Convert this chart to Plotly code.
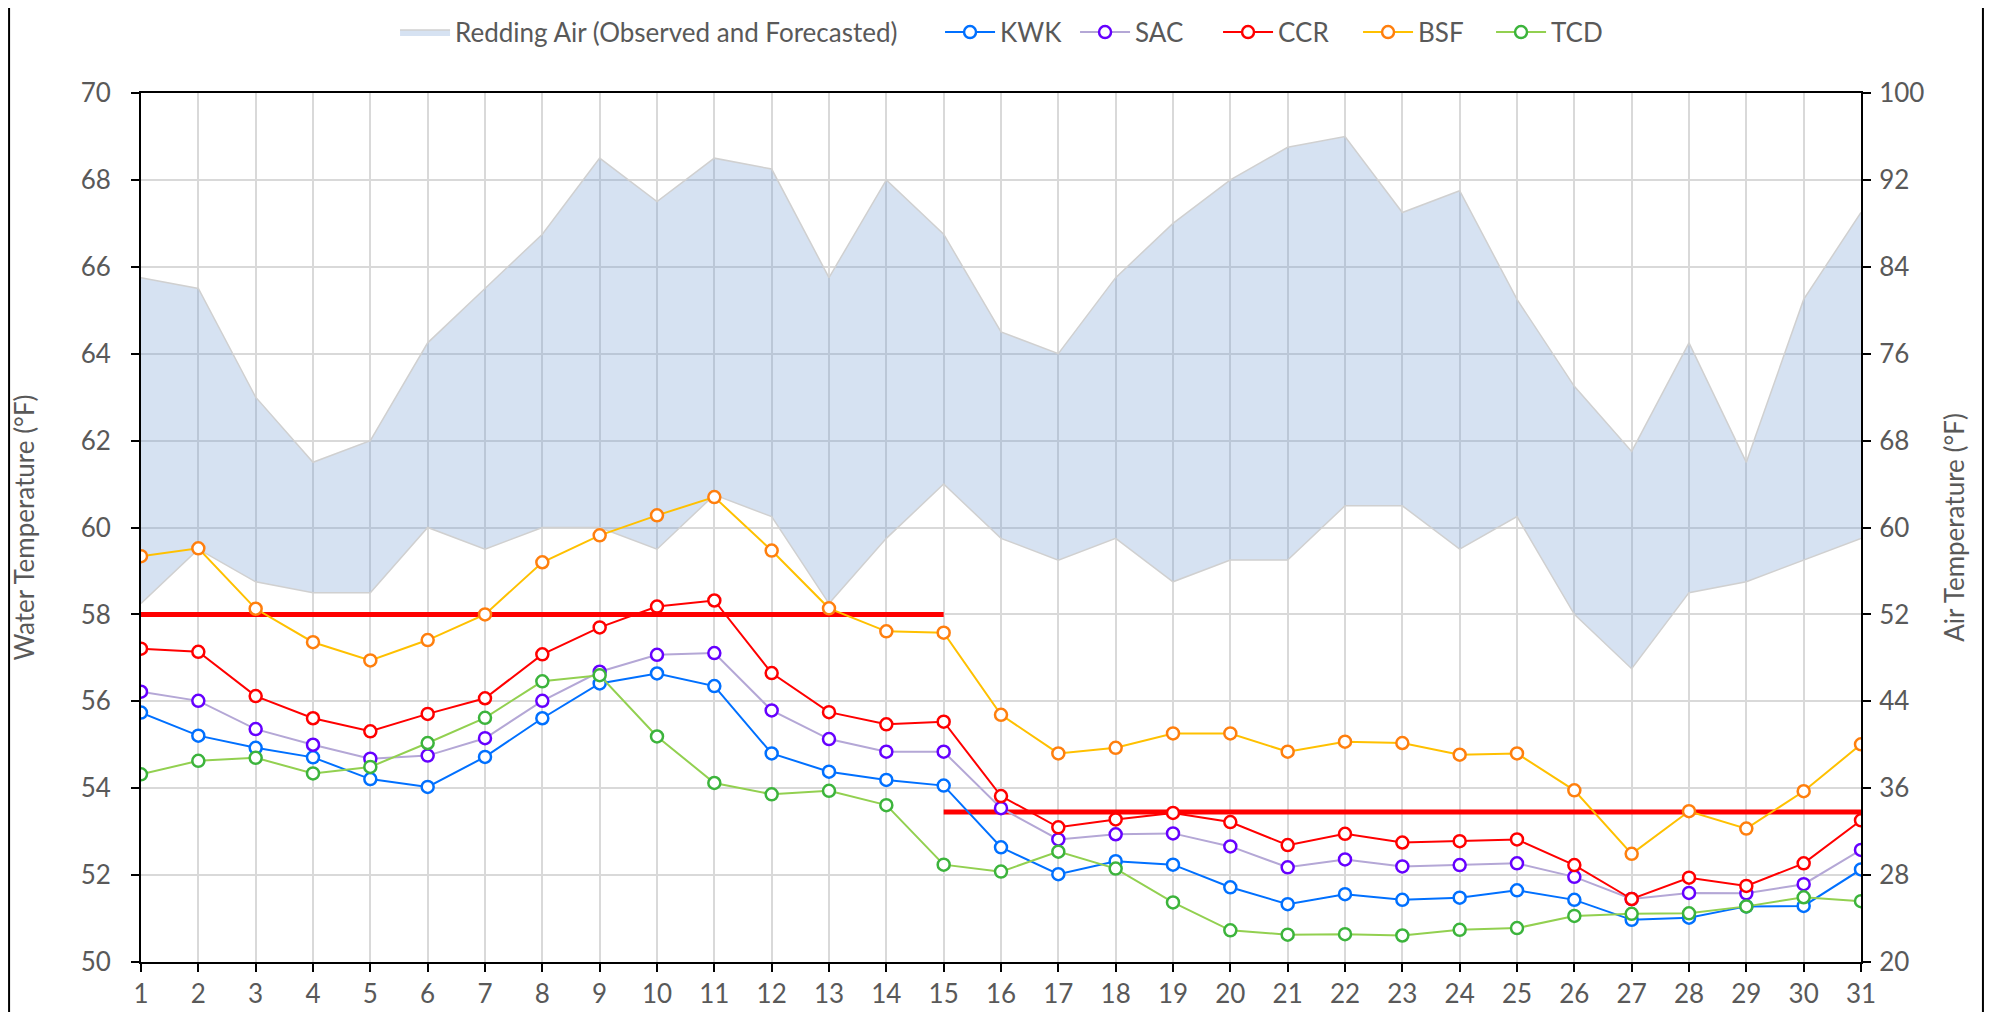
import plotly.graph_objects as go

days = list(range(1, 32))

# Redding air temperature range (right axis, °F)
air_high = [83, 82, 72, 66, 68, 77, 82, 87, 94, 90, 94, 93, 83, 92, 87, 78,
            76, 83, 88, 92, 95, 96, 89, 91, 81, 73, 67, 77, 66, 81, 89]
air_low = [53, 58, 55, 54, 54, 60, 58, 60, 60, 58, 63, 61, 53, 59, 64, 59,
           57, 59, 55, 57, 57, 62, 62, 58, 61, 52, 47, 54, 55, 57, 59]

# water temperatures (left axis, °F)
kwk = [55.74, 55.21, 54.93, 54.71, 54.21, 54.03, 54.72, 55.61, 56.41, 56.64, 56.35,
       54.80, 54.38, 54.19, 54.06, 52.64, 52.02, 52.32, 52.24, 51.72, 51.33, 51.56,
       51.43, 51.48, 51.65, 51.43, 50.97, 51.02, 51.28, 51.29, 52.13]
sac = [56.22, 56.01, 55.36, 55.00, 54.68, 54.75, 55.15, 56.01, 56.68, 57.07, 57.11,
       55.79, 55.13, 54.84, 54.84, 53.54, 52.82, 52.94, 52.96, 52.66, 52.18, 52.36,
       52.20, 52.23, 52.27, 51.96, 51.45, 51.59, 51.58, 51.79, 52.58]
ccr = [57.21, 57.14, 56.12, 55.61, 55.31, 55.71, 56.07, 57.08, 57.70, 58.18, 58.32,
       56.65, 55.75, 55.47, 55.53, 53.82, 53.10, 53.28, 53.43, 53.22, 52.69, 52.95,
       52.75, 52.78, 52.82, 52.23, 51.45, 51.94, 51.75, 52.27, 53.26]
bsf = [59.34, 59.52, 58.13, 57.36, 56.94, 57.41, 58.00, 59.20, 59.82, 60.28, 60.70,
       59.47, 58.14, 57.61, 57.58, 55.69, 54.80, 54.93, 55.26, 55.26, 54.84, 55.07,
       55.04, 54.77, 54.80, 53.95, 52.49, 53.47, 53.07, 53.93, 55.01]
tcd = [54.32, 54.63, 54.70, 54.34, 54.49, 55.04, 55.62, 56.46, 56.60, 55.19, 54.12,
       53.86, 53.94, 53.61, 52.24, 52.08, 52.54, 52.15, 51.37, 50.73, 50.63, 50.64,
       50.61, 50.74, 50.78, 51.06, 51.11, 51.12, 51.28, 51.49, 51.40]

# temperature targets
target1_days = [1, 15]
target1 = [58.0, 58.0]
target2_days = [15, 31]
target2 = [53.45, 53.45]

FONT = "Lato, Noto Sans, sans-serif"
GRAY = "#595959"

fig = go.Figure()

# air band on the primary (right side) axis so it sits under the water lines
fig.add_trace(go.Scatter(x=days, y=air_low, mode="lines", yaxis="y",
                         line=dict(color="#D0D0D0", width=1.5),
                         showlegend=False, hoverinfo="skip"))
fig.add_trace(go.Scatter(x=days, y=air_high, mode="lines", yaxis="y",
                         name="Redding Air (Observed and Forecasted)", legendwidth=480,
                         fill="tonexty", fillcolor="rgba(118,158,212,0.30)",
                         line=dict(color="#D0D0D0", width=1.5)))

# target lines
fig.add_trace(go.Scatter(x=target1_days, y=target1, mode="lines", yaxis="y2",
                         line=dict(color="#FF0000", width=5), showlegend=False))
fig.add_trace(go.Scatter(x=target2_days, y=target2, mode="lines", yaxis="y2",
                         line=dict(color="#FF0000", width=5), showlegend=False))

series = [
    ("KWK", kwk, "#0070FF", "#0070FF", 70),
    ("SAC", sac, "#B4A7D6", "#6600FF", 78),
    ("CCR", ccr, "#FF0000", "#FF0000", 75),
    ("BSF", bsf, "#FFC000", "#FF7F0E", 68),
    ("TCD", tcd, "#92D050", "#3CB43C", 60),
]
for name, vals, lc, mc, lw in series:
    fig.add_trace(go.Scatter(
        x=days, y=vals, mode="lines+markers", name=name, yaxis="y2",
        legendwidth=lw,
        line=dict(color=lc, width=2),
        marker=dict(symbol="circle", size=12, color="white",
                    line=dict(color=mc, width=2.5))))

# page body adds an 8px offset on every side, so the figure is kept inside the window
fig.update_layout(
    width=1976, height=1004,
    paper_bgcolor="white", plot_bgcolor="white",
    margin=dict(l=133, r=123, t=85, b=50, autoexpand=False),
    font=dict(family=FONT, size=26, color=GRAY),
    legend=dict(orientation="h", x=0.1477, xanchor="left", y=1.070, yanchor="middle",
                traceorder="normal", font=dict(size=26, color=GRAY),
                itemwidth=50),
    xaxis=dict(range=[1, 31], tickmode="array", tickvals=days, automargin=False,
               showgrid=True, gridcolor="#D9D9D9", gridwidth=2,
               showline=True, linecolor="black", linewidth=2, mirror=True,
               ticks="outside", ticklen=8, tickcolor="black", tickwidth=2,
               zeroline=False),
    yaxis=dict(range=[20, 100], tick0=20, dtick=8, side="right", automargin=False,
               title=dict(text="Air Temperature (°F)", standoff=22, font=dict(size=26)),
               ticklabelstandoff=3,
               showgrid=True, gridcolor="#D9D9D9", gridwidth=2,
               showline=True, linecolor="black", linewidth=2,
               ticks="outside", ticklen=8, tickcolor="black", tickwidth=2,
               zeroline=False),
    yaxis2=dict(range=[50, 70], tick0=50, dtick=2, side="left", overlaying="y",
                automargin=False,
                title=dict(text="Water Temperature (°F)", standoff=60, font=dict(size=26)),
                ticklabelstandoff=15,
                showgrid=False,
                showline=True, linecolor="black", linewidth=2,
                ticks="outside", ticklen=8, tickcolor="black", tickwidth=2,
                zeroline=False),
)

# outer chart frame edges
fig.add_shape(type="line", xref="paper", yref="paper", x0=-0.0767, x1=-0.0767, y0=-0.2, y1=1.2,
              line=dict(color="black", width=2))
fig.add_shape(type="line", xref="paper", yref="paper", x0=1.0709, x1=1.0709, y0=-0.2, y1=1.2,
              line=dict(color="black", width=2))

fig.write_html("out.html")
